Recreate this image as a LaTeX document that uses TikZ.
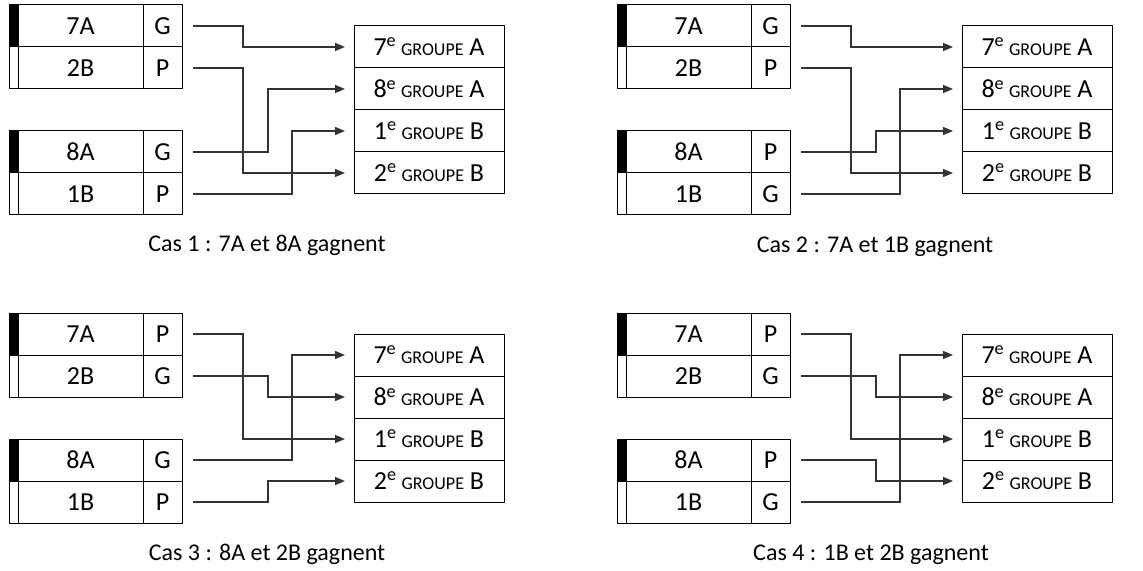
\documentclass[tikz,border=0pt]{standalone}
\usepackage{fontspec}
\setmainfont{Carlito}
\usetikzlibrary{arrows.meta}

\tikzset{
  cellule/.style={draw, line width=0.5pt, inner sep=0pt, outer sep=0pt,
    minimum height=21pt, font=\fontsize{13}{15}\selectfont},
  bande/.style={cellule, minimum width=4.5pt},
  equipe/.style={cellule, minimum width=62.5pt},
  resultat/.style={cellule, minimum width=19.5pt},
  groupe/.style={cellule, minimum width=75pt},
  lien/.style={draw=black!80, line width=0.6pt, shorten <=5.5pt, shorten >=4.5pt,
    -{Triangle[length=5pt,width=4pt]}},
  legende/.style={font=\fontsize{12}{14}\selectfont}
}

\newcommand{\grp}[2]{#1\textsuperscript{e}\,{\fontsize{9}{10}\selectfont GROUPE} #2}

% un tableau : equipes, resultats G/P et groupes
\newcommand{\tableau}[5]{%
  % equipes
  \node[bande, fill=black] (#1-b1) at (4.5,21) {};
  \node[equipe] (#1-e1) at (71.5,21) {7A};
  \node[resultat] (#1-r1) at (153.5,21) {#2};
  \node[bande] (#1-b2) at (4.5,63) {};
  \node[equipe] (#1-e2) at (71.5,63) {2B};
  \node[resultat] (#1-r2) at (153.5,63) {#3};
  \node[bande, fill=black] (#1-b3) at (4.5,147) {};
  \node[equipe] (#1-e3) at (71.5,147) {8A};
  \node[resultat] (#1-r3) at (153.5,147) {#4};
  \node[bande] (#1-b4) at (4.5,189) {};
  \node[equipe] (#1-e4) at (71.5,189) {1B};
  \node[resultat] (#1-r4) at (153.5,189) {#5};
  % groupes
  \node[groupe] (#1-g1) at (420,42) {\grp{7}{A}};
  \node[groupe] (#1-g2) at (420,84) {\grp{8}{A}};
  \node[groupe] (#1-g3) at (420,126) {\grp{1}{B}};
  \node[groupe] (#1-g4) at (420,168) {\grp{2}{B}};
  % colonnes des coudes
  \coordinate (#1-c1) at (234,0);
  \coordinate (#1-c2) at (259,0);
  \coordinate (#1-c3) at (283,0);
}

\begin{document}
\begin{tikzpicture}[x=0.5pt, y=-0.5pt]
  \useasboundingbox (0,0) rectangle (1143,571);

  % Cas 1
  \begin{scope}[shift={(9,5)}]
    \tableau{p1}{G}{P}{G}{P}
    \draw[lien] (p1-r1.east) -- (p1-r1.east -| p1-c1) |- (p1-g1.west);
    \draw[lien] (p1-r2.east) -- (p1-r2.east -| p1-c1) |- (p1-g4.west);
    \draw[lien] (p1-r3.east) -- (p1-r3.east -| p1-c2) |- (p1-g2.west);
    \draw[lien] (p1-r4.east) -- (p1-r4.east -| p1-c3) |- (p1-g3.west);
    \node[legende] (p1-cas) at (258,240) {Cas 1 : 7A et 8A gagnent};
  \end{scope}

  % Cas 2
  \begin{scope}[shift={(617,5)}]
    \tableau{p2}{G}{P}{P}{G}
    \draw[lien] (p2-r1.east) -- (p2-r1.east -| p2-c1) |- (p2-g1.west);
    \draw[lien] (p2-r2.east) -- (p2-r2.east -| p2-c1) |- (p2-g4.west);
    \draw[lien] (p2-r3.east) -- (p2-r3.east -| p2-c2) |- (p2-g3.west);
    \draw[lien] (p2-r4.east) -- (p2-r4.east -| p2-c3) |- (p2-g2.west);
    \node[legende] (p2-cas) at (258,242) {Cas 2 : 7A et 1B gagnent};
  \end{scope}

  % Cas 3
  \begin{scope}[shift={(9,313)}]
    \tableau{p3}{P}{G}{G}{P}
    \draw[lien] (p3-r1.east) -- (p3-r1.east -| p3-c1) |- (p3-g3.west);
    \draw[lien] (p3-r2.east) -- (p3-r2.east -| p3-c2) |- (p3-g2.west);
    \draw[lien] (p3-r3.east) -- (p3-r3.east -| p3-c3) |- (p3-g1.west);
    \draw[lien] (p3-r4.east) -- (p3-r4.east -| p3-c2) |- (p3-g4.west);
    \node[legende] (p3-cas) at (258,241) {Cas 3 : 8A et 2B gagnent};
  \end{scope}

  % Cas 4
  \begin{scope}[shift={(617,313)}]
    \tableau{p4}{P}{G}{P}{G}
    \draw[lien] (p4-r1.east) -- (p4-r1.east -| p4-c1) |- (p4-g3.west);
    \draw[lien] (p4-r2.east) -- (p4-r2.east -| p4-c2) |- (p4-g2.west);
    \draw[lien] (p4-r3.east) -- (p4-r3.east -| p4-c2) |- (p4-g4.west);
    \draw[lien] (p4-r4.east) -- (p4-r4.east -| p4-c3) |- (p4-g1.west);
    \node[legende] (p4-cas) at (254,242) {Cas 4 : 1B et 2B gagnent};
  \end{scope}
\end{tikzpicture}
\end{document}
